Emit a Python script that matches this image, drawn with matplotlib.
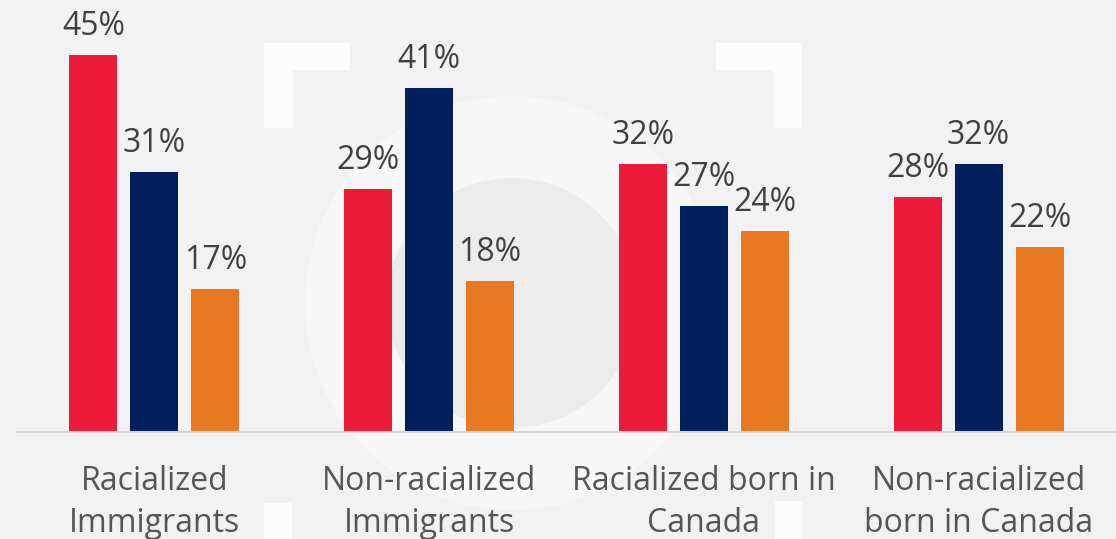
import numpy as np
import matplotlib
matplotlib.use("Agg")
import matplotlib.pyplot as plt
from matplotlib.patches import Circle, Rectangle

# data
groups = ["Racialized\nImmigrants", "Non-racialized\nImmigrants",
          "Racialized born in\nCanada", "Non-racialized\nborn in Canada"]
red_vals = [45, 29, 32, 28]
navy_vals = [31, 41, 27, 32]
orange_vals = [17, 18, 24, 22]

colors = ["#ED1A3A", "#001F5C", "#E87722"]

plt.rcParams["font.family"] = ["Open Sans", "DejaVu Sans"]

W, H = 1116, 539
fig = plt.figure(figsize=(W / 100, H / 100), dpi=100)
fig.patch.set_facecolor("#f2f2f2")

# faint watermark in pixel coordinates
bg = fig.add_axes([0, 0, 1, 1], zorder=-1)
bg.set_xlim(0, W)
bg.set_ylim(H, 0)
bg.axis("off")
bg.add_patch(Circle((512, 303), 207, color="#f7f7f7", lw=0))
bg.add_patch(Circle((512, 303), 125, color="#ececec", lw=0))
for (x, y, w, h) in [(264, 43, 86, 27), (264, 43, 29, 85),
                     (716, 43, 86, 27), (773, 43, 29, 85),
                     (264, 503, 28, 40), (775, 501, 28, 40)]:
    bg.add_patch(Rectangle((x, y), w, h, color="#fcfcfc", lw=0))

ax = fig.add_axes([17 / W, (H - 432) / H, 1 - 17 / W, 432 / H])
ax.set_facecolor("none")

x = np.arange(len(groups))
barWidth = 0.175
step = 0.222

for i, vals in enumerate([red_vals, navy_vals, orange_vals]):
    pos = x + (i - 1) * step
    ax.bar(pos, vals, width=barWidth, color=colors[i], zorder=2)
    for px, v in zip(pos, vals):
        ax.annotate(f"{v}%", (px, v), xytext=(0, 14.4), textcoords="offset points",
                    ha="center", va="baseline", fontsize=23, color="#404040")

ax.set_xlim(-0.5, 3.5)
ax.set_ylim(0, 51.5)
ax.set_yticks([])
ax.set_xticks(x)
ax.set_xticklabels(groups, fontsize=23, color="#555555", linespacing=1.36)
ax.tick_params(axis="x", length=0, pad=23.5)
for s in ["top", "left", "right"]:
    ax.spines[s].set_visible(False)
ax.spines["bottom"].set_color("#d3d3d3")
ax.spines["bottom"].set_linewidth(1.5)

fig.savefig("out.png", dpi=100, facecolor=fig.get_facecolor())
